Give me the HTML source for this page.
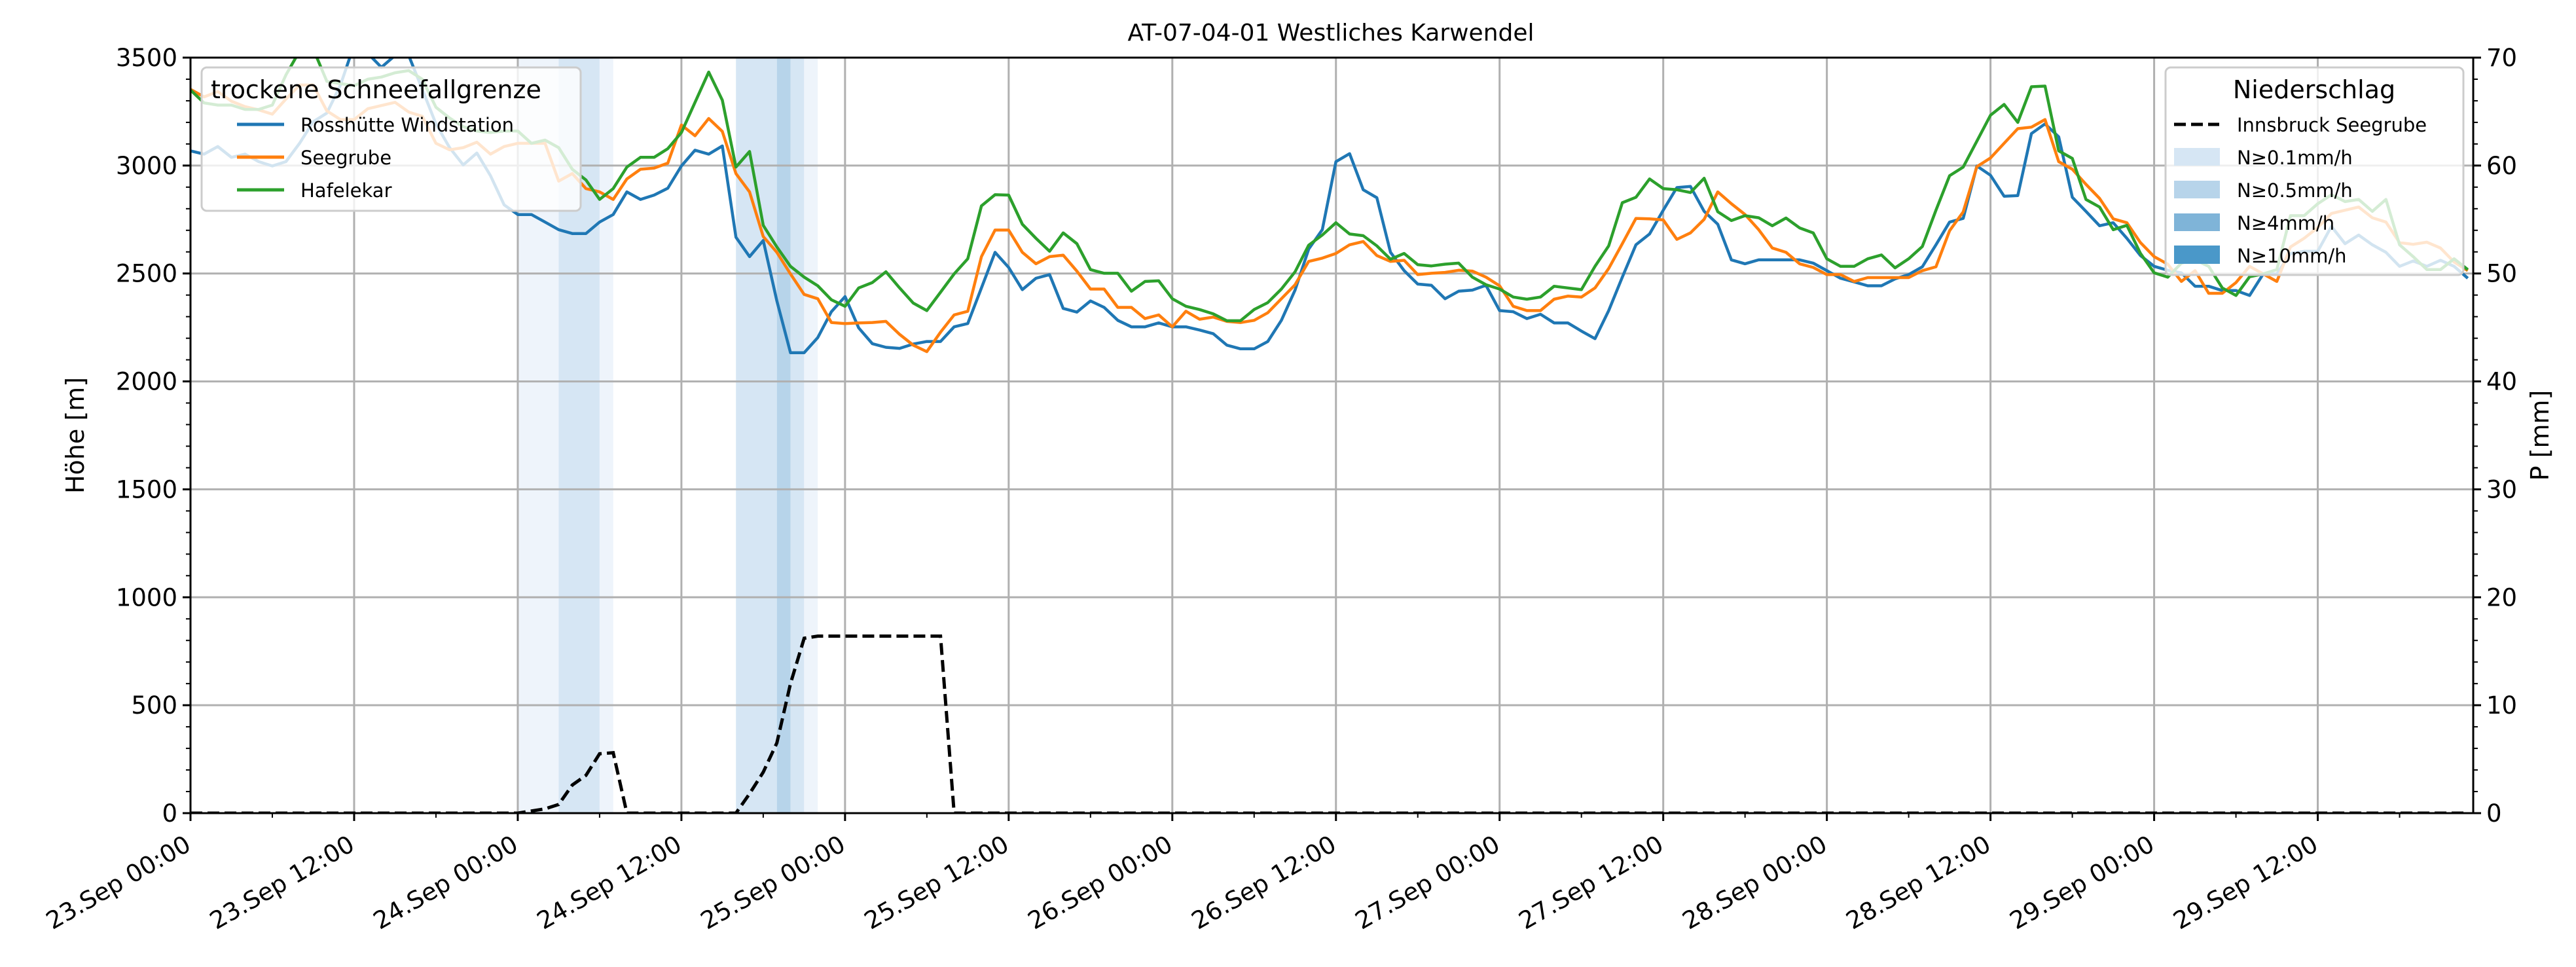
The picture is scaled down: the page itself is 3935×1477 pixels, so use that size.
<!DOCTYPE html>
<html><head><meta charset="utf-8"><style>
html,body{margin:0;padding:0;background:#fff;}
svg{display:block;font-family:"DejaVu Sans","Liberation Sans",sans-serif;}
</style></head><body>
<svg id="chart" width="3935" height="1477" viewBox="0 0 3935 1477" xmlns="http://www.w3.org/2000/svg">
<defs><clipPath id="plotclip"><rect x="291" y="88" width="3487" height="1154"/></clipPath></defs>
<rect x="0" y="0" width="3935" height="1477" fill="#fff"/>
<g id="bands" clip-path="url(#plotclip)"></g>
<g id="grid"></g>
<g id="series" clip-path="url(#plotclip)"></g>
<g id="axes"></g>
<text x="2033" y="62" font-size="36" text-anchor="middle">AT-07-04-01 Westliches Karwendel</text>
<text x="0" y="0" font-size="38" text-anchor="middle" transform="translate(128,665) rotate(-90)">Höhe [m]</text>
<text x="0" y="0" font-size="38" text-anchor="middle" transform="translate(3893,665) rotate(-90)">P [mm]</text>

<g>
<rect x="308" y="103" width="579" height="219" rx="8" fill="#fff" fill-opacity="0.8" stroke="#cccccc" stroke-width="3"/>
<text x="322" y="150" font-size="38">trockene Schneefallgrenze</text>
<line x1="362" y1="190" x2="434" y2="190" stroke="#1f77b4" stroke-width="5"/>
<text x="459" y="201" font-size="29">Rosshütte Windstation</text>
<line x1="362" y1="240" x2="434" y2="240" stroke="#ff7f0e" stroke-width="5"/>
<text x="459" y="251" font-size="29">Seegrube</text>
<line x1="362" y1="290" x2="434" y2="290" stroke="#2ca02c" stroke-width="5"/>
<text x="459" y="301" font-size="29">Hafelekar</text>
</g>

<g>
<rect x="3308" y="103" width="455" height="317" rx="8" fill="#fff" fill-opacity="0.8" stroke="#cccccc" stroke-width="3"/>
<text x="3535" y="150" font-size="38" text-anchor="middle">Niederschlag</text>
<line x1="3321" y1="190" x2="3390" y2="190" stroke="#000" stroke-width="5" stroke-dasharray="18,8"/>
<text x="3417" y="201" font-size="29">Innsbruck Seegrube</text>
<rect x="3321" y="226" width="70" height="27" fill="#d6e6f4"/>
<text x="3417" y="251" font-size="29">N≥0.1mm/h</text>
<rect x="3321" y="276" width="70" height="27" fill="#b7d4ea"/>
<text x="3417" y="301" font-size="29">N≥0.5mm/h</text>
<rect x="3321" y="326" width="70" height="27" fill="#7fb4d8"/>
<text x="3417" y="351" font-size="29">N≥4mm/h</text>
<rect x="3321" y="375" width="70" height="28" fill="#4a98c9"/>
<text x="3417" y="401" font-size="29">N≥10mm/h</text>
</g>
</svg>
<script>
// ---- data ----
const rosshuette = [3068,3053,3088,3038,3053,3018,2998,3018,3103,3203,3243,3373,3560,3520,3455,3510,3510,3353,3193,3083,3003,3058,2953,2818,2773,2773,2738,2703,2685,2685,2738,2773,2878,2843,2863,2895,2998,3071,3053,3091,2668,2578,2653,2373,2133,2133,2203,2323,2393,2248,2175,2158,2153,2173,2185,2185,2253,2268,2433,2598,2528,2425,2478,2495,2338,2321,2373,2343,2283,2253,2253,2271,2253,2253,2238,2221,2168,2151,2151,2185,2283,2423,2613,2703,3018,3055,2888,2851,2598,2513,2451,2445,2383,2418,2423,2445,2328,2323,2291,2311,2271,2271,2233,2198,2328,2483,2633,2683,2793,2898,2903,2788,2728,2563,2545,2563,2563,2563,2563,2548,2513,2478,2461,2443,2443,2475,2495,2531,2633,2738,2755,2998,2955,2858,2861,3148,3193,3133,2853,2788,2721,2735,2663,2583,2533,2515,2503,2441,2441,2421,2421,2398,2498,2498,2593,2603,2603,2718,2638,2678,2633,2598,2533,2558,2533,2561,2533,2478];
const seegrube = [3353,3318,3343,3298,3273,3258,3238,3308,3373,3373,3253,3213,3213,3263,3278,3293,3248,3228,3103,3073,3083,3108,3053,3088,3103,3103,3103,2928,2963,2893,2878,2843,2938,2983,2988,3011,3188,3138,3218,3158,2963,2878,2671,2598,2498,2403,2383,2273,2268,2271,2273,2278,2218,2168,2138,2228,2308,2325,2578,2701,2701,2598,2545,2578,2585,2511,2428,2428,2343,2343,2291,2308,2253,2325,2288,2298,2278,2273,2283,2318,2383,2448,2556,2571,2593,2633,2648,2583,2556,2561,2495,2501,2505,2515,2511,2483,2443,2348,2328,2328,2381,2395,2391,2433,2523,2638,2755,2753,2748,2658,2688,2751,2878,2823,2773,2703,2618,2598,2545,2528,2495,2495,2463,2481,2481,2481,2481,2513,2531,2698,2785,2995,3035,3103,3171,3178,3213,3018,2983,2913,2848,2753,2735,2643,2578,2543,2463,2513,2408,2408,2458,2533,2498,2463,2623,2663,2713,2778,2793,2808,2758,2738,2643,2635,2645,2618,2553,2513];
const hafelekar = [3350,3290,3280,3280,3260,3260,3280,3420,3530,3540,3390,3380,3370,3400,3410,3430,3440,3400,3270,3220,3180,3160,3153,3160,3160,3103,3118,3083,2983,2933,2843,2893,2993,3038,3038,3078,3153,3293,3433,3303,2993,3065,2723,2623,2533,2483,2443,2378,2348,2433,2458,2508,2433,2363,2328,2413,2498,2568,2813,2865,2863,2728,2663,2603,2688,2638,2518,2501,2501,2418,2463,2466,2383,2348,2333,2313,2281,2281,2333,2365,2428,2508,2631,2678,2735,2683,2675,2628,2566,2593,2541,2535,2543,2548,2483,2448,2428,2391,2381,2391,2441,2433,2425,2533,2628,2828,2853,2938,2893,2888,2875,2941,2786,2745,2768,2758,2721,2757,2711,2688,2568,2533,2533,2568,2586,2526,2568,2625,2793,2953,2993,3113,3233,3283,3200,3365,3368,3068,3033,2843,2808,2703,2723,2593,2503,2483,2548,2563,2533,2433,2398,2485,2498,2518,2768,2768,2823,2865,2833,2843,2788,2843,2633,2578,2518,2518,2568,2518];
const precipHours = [0,24,25,26,27,28,29,30,31,32,40,41,42,43,44,45,46,55,56,167];
const precipValues = [0,0,0.2,0.4,0.8,2.6,3.5,5.5,5.6,0,0,1.8,3.8,6.5,12,16.2,16.4,16.4,0,0];
const bandStarts = [24,27,30,40,43,44,45];
const bandEnds = [27,30,31,43,44,45,46];
const bandLevels = [0,1,0,1,2,1,0];
const xTickLabels = ["23.Sep 00:00","23.Sep 12:00","24.Sep 00:00","24.Sep 12:00","25.Sep 00:00","25.Sep 12:00","26.Sep 00:00","26.Sep 12:00","27.Sep 00:00","27.Sep 12:00","28.Sep 00:00","28.Sep 12:00","29.Sep 00:00","29.Sep 12:00"];
const yTicks = [0,500,1000,1500,2000,2500,3000,3500];
const y2Ticks = [0,10,20,30,40,50,60,70];

// ---- axes ----
const L=291,R=3778,T=88,B=1242;
const X=h=>L+h*(R-L)/167.4;
const Y=v=>B-v/3500*(B-T);
const Y2=p=>B-p/70*(B-T);
const NS="http://www.w3.org/2000/svg";
function mk(tag,attrs,parent){const e=document.createElementNS(NS,tag);for(const k in attrs)e.setAttribute(k,attrs[k]);parent.appendChild(e);return e;}
const bandsG=document.getElementById('bands'),gridG=document.getElementById('grid'),seriesG=document.getElementById('series'),axesG=document.getElementById('axes');
const bandColors=['#eef4fb','#d6e6f4','#b7d4ea'];
bandStarts.forEach((s,i)=>{
  const r=mk('rect',{x:X(s),y:T,width:X(bandEnds[i])-X(s),height:B-T,fill:bandColors[bandLevels[i]]},bandsG);
  
  
});
xTickLabels.forEach((lab,i)=>{
  const x=X(i*12);
  const g=mk('line',{x1:x,y1:T,x2:x,y2:B,stroke:'#b0b0b0','stroke-width':3},gridG);
  
  
  mk('line',{x1:x,y1:B,x2:x,y2:B+12,stroke:'#000','stroke-width':3},axesG);
  const t=mk('text',{x:0,y:0,'font-size':37,'text-anchor':'end',transform:`translate(${x+3},${B+55}) rotate(-30)`},axesG);
  t.textContent=lab;
  
  
});
for(let i=0;i<14;i++){const x=X(i*12+6);mk('line',{x1:x,y1:B,x2:x,y2:B+7,stroke:'#000','stroke-width':2},axesG);}
yTicks.forEach(v=>{
  const y=Y(v);
  if(v>0&&v<3500){const g=mk('line',{x1:L,y1:y,x2:R,y2:y,stroke:'#b0b0b0','stroke-width':3},gridG);
  
  }
  mk('line',{x1:L-12,y1:y,x2:L,y2:y,stroke:'#000','stroke-width':3},axesG);
  const t=mk('text',{x:L-20,y:y+13,'font-size':37,'text-anchor':'end'},axesG);
  t.textContent=v;
  
  
});
for(let v=100;v<3500;v+=100){if(v%500)mk('line',{x1:L-7,y1:Y(v),x2:L,y2:Y(v),stroke:'#000','stroke-width':2},axesG);}
y2Ticks.forEach(p=>{
  const y=Y2(p);
  mk('line',{x1:R,y1:y,x2:R+12,y2:y,stroke:'#000','stroke-width':3},axesG);
  const t=mk('text',{x:R+20,y:y+13,'font-size':37},axesG);
  t.textContent=p;
  
  
});
for(let p=2;p<70;p+=2){if(p%10)mk('line',{x1:R,y1:Y2(p),x2:R+7,y2:Y2(p),stroke:'#000','stroke-width':2},axesG);}
mk('rect',{x:L,y:T,width:R-L,height:B-T,fill:'none',stroke:'#000','stroke-width':3},axesG);

// ---- series ----
function line(vals,color,name){
  const pts=vals.map((v,i)=>X(i).toFixed(1)+','+Y(v).toFixed(1)).join(' ');
  const p=mk('polyline',{points:pts,fill:'none',stroke:color,'stroke-width':4.5,'stroke-linejoin':'round'},seriesG);
  
  
}
line(rosshuette,'#1f77b4','rosshuette-line');
line(seegrube,'#ff7f0e','seegrube-line');
line(hafelekar,'#2ca02c','hafelekar-line');
const pp=precipHours.map((h,i)=>X(h).toFixed(1)+','+Y2(precipValues[i]).toFixed(1)).join(' ');
const pl=mk('polyline',{points:pp,fill:'none',stroke:'#000','stroke-width':5,'stroke-dasharray':'18,8'},seriesG);


</script>
</body></html>
